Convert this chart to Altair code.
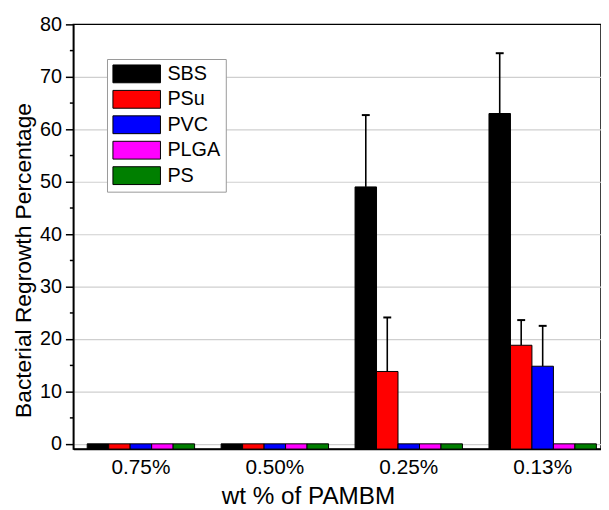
import altair as alt
import pandas as pd

categories = ["0.75%", "0.50%", "0.25%", "0.13%"]
series = ["SBS", "PSu", "PVC", "PLGA", "PS"]
colors = ["#000000", "#ff0000", "#0000ff", "#ff00ff", "#007f00"]

sbs_values = [0, 0, 49.0, 63.0]
psu_values = [0, 0, 13.8, 18.8]
pvc_values = [0, 0, 0, 14.8]
plga_values = [0, 0, 0, 0]
ps_values = [0, 0, 0, 0]

sbs_errors = [0, 0, 13.7, 11.5]
psu_errors = [0, 0, 10.3, 4.8]
pvc_errors = [0, 0, 0, 7.7]
plga_errors = [0, 0, 0, 0]
ps_errors = [0, 0, 0, 0]

all_values = [sbs_values, psu_values, pvc_values, plga_values, ps_values]
all_errors = [sbs_errors, psu_errors, pvc_errors, plga_errors, ps_errors]

rows = []
for s, vals, errs in zip(series, all_values, all_errors):
    for c, v, e in zip(categories, vals, errs):
        rows.append({"cat": c, "series": s, "value": v, "err": e, "upper": v + e})
df = pd.DataFrame(rows)

FONT = "Liberation Sans"

x_enc = alt.X(
    "cat:N",
    sort=categories,
    scale=alt.Scale(paddingInner=0.198, paddingOuter=0.069, align=0.75),
    axis=alt.Axis(
        title="wt % of PAMBM",
        ticks=False,
        labelAngle=0,
        grid=False,
        domainColor="black",
        domainWidth=1.5,
        labelFont=FONT,
        labelFontSize=21,
        labelColor="black",
        labelPadding=8,
        titleFont=FONT,
        titleFontSize=24.5,
        titleFontWeight="normal",
        titleColor="black",
        titlePadding=7,
        titleX=237,
    ),
)
xoff_enc = alt.XOffset("series:N", sort=series, scale=alt.Scale(paddingInner=0, paddingOuter=0))

y_axis = alt.Axis(
    title="Bacterial Regrowth Percentage",
    values=list(range(0, 81, 5)),
    labelExpr="datum.value % 10 === 0 ? datum.label : ''",
    tickSize={"condition": {"test": "datum.value % 10 === 0", "value": 8}, "value": 4},
    gridOpacity={"condition": {"test": "datum.value % 10 === 0 && datum.value < 80", "value": 1}, "value": 0},
    gridColor="#cfcfcf",
    gridWidth=1.2,
    domainColor="black",
    domainWidth=1.5,
    tickColor="black",
    tickWidth=1.5,
    labelFont=FONT,
    labelFontSize=20,
    labelColor="black",
    labelPadding=4,
    titleFont=FONT,
    titleFontSize=23,
    titleFontWeight="normal",
    titleColor="black",
    titlePadding=4,
    titleY=238,
)
y_scale = alt.Scale(domain=[-1, 80], nice=False, zero=False)

base = alt.Chart(df)

bars = base.mark_bar(stroke="black", strokeWidth=1, opacity=1).encode(
    x=x_enc,
    xOffset=xoff_enc,
    y=alt.Y("value:Q", scale=y_scale, axis=y_axis),
    y2=alt.datum(-1),
    color=alt.Color(
        "series:N",
        sort=series,
        scale=alt.Scale(domain=series, range=colors),
        legend=alt.Legend(
            title=None,
            orient="none",
            legendX=34,
            legendY=35,
            symbolType="M-2.667,-1L2.667,-1L2.667,1L-2.667,1Z",
            symbolSize=324,
            symbolStrokeColor="black",
            symbolStrokeWidth=1,
            symbolOpacity=1,
            symbolOffset=15,
            labelOffset=21,
            labelFont=FONT,
            labelFontSize=20,
            labelColor="black",
            rowPadding=3.7,
            padding=5,
            strokeColor="#999999",
            fillColor="white",
        ),
    ),
)

err = base.transform_filter("datum.err > 0")

rules = err.mark_rule(color="black", strokeWidth=1.6).encode(
    x=x_enc,
    xOffset=xoff_enc,
    y=alt.Y("value:Q", scale=y_scale, axis=y_axis),
    y2="upper:Q",
)

caps = err.mark_tick(orient="horizontal", color="black", size=8, thickness=2, opacity=1).encode(
    x=x_enc,
    xOffset=xoff_enc,
    y=alt.Y("upper:Q", scale=y_scale, axis=y_axis),
)

chart = (
    alt.layer(bars, rules, caps)
    .properties(
        width=533,
        height=429,
        autosize=alt.AutoSizeParams(type="none"),
        padding={"left": 66, "top": 14, "right": 0, "bottom": 58},
    )
    .configure_view(stroke="black", strokeWidth=1.5)
)

chart.save("out.html", embed_options={"renderer": "svg", "actions": False})
